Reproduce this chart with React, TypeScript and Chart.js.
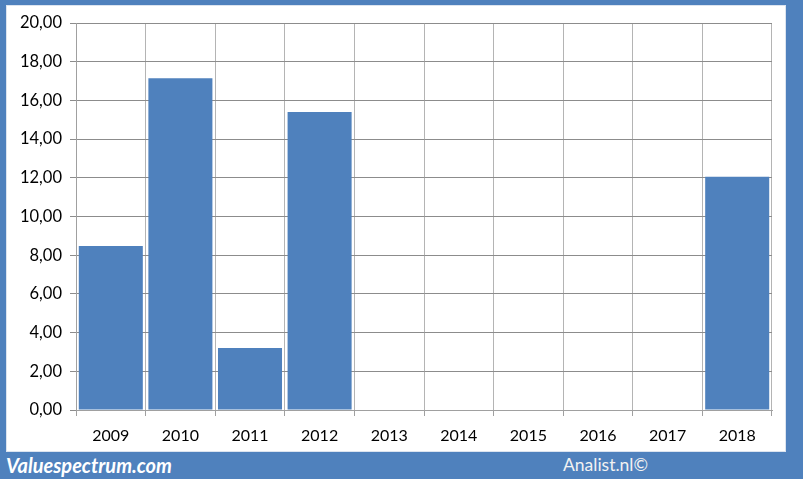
import React, { useEffect, useRef } from "react";
import { Chart, registerables } from "chart.js";

Chart.register(...registerables);

const categories = ["2009", "2010", "2011", "2012", "2013", "2014", "2015", "2016", "2017", "2018"];
const values = [8.48, 17.15, 3.2, 15.4, 0, 0, 0, 0, 0, 12.05];
const yMin = 0;
const yMax = 20;
const yStep = 2;

const BLUE = "#4f81bd";
const FONT = "Lato, 'Open Sans', sans-serif";

export default function App() {
  const ref = useRef<HTMLCanvasElement | null>(null);

  useEffect(() => {
    document.body.style.margin = "0";
    const ctx = ref.current!;
    const chart = new Chart(ctx, {
      type: "bar",
      data: {
        labels: categories,
        datasets: [
          {
            data: values,
            backgroundColor: BLUE,
            borderWidth: 0,
            barPercentage: 0.92,
            categoryPercentage: 1,
          },
        ],
      },
      options: {
        animation: false,
        responsive: false,
        maintainAspectRatio: false,
        events: [],
        layout: { padding: { top: 18, right: 14, left: 0, bottom: 0 } },
        plugins: { legend: { display: false }, tooltip: { enabled: false } },
        scales: {
          x: {
            grid: {
              offset: true,
              color: "#b4b4b4",
              lineWidth: 1,
              drawTicks: true,
              tickLength: 6,
              tickColor: "#a0a0a0",
            },
            border: { color: "#a0a0a0" },
            ticks: {
              color: "#000",
              font: { family: FONT, size: 16 },
              padding: 10,
              maxRotation: 0,
            },
            afterFit: (s: any) => {
              s.height = 42;
            },
          },
          y: {
            min: yMin,
            max: yMax,
            grid: {
              color: "#8c8c8c",
              lineWidth: 1,
              drawTicks: true,
              tickLength: 6,
              tickColor: "#8c8c8c",
            },
            border: { color: "#a0a0a0" },
            ticks: {
              stepSize: yStep,
              color: "#000",
              font: { family: FONT, size: 16.5 },
              padding: 8,
              callback: (v: any) => Number(v).toFixed(2).replace(".", ","),
            },
            afterFit: (s: any) => {
              s.width = 70;
            },
          },
        },
      },
    });
    return () => chart.destroy();
  }, []);

  return (
    <div style={{ position: "relative", width: 803, height: 479, background: BLUE, overflow: "hidden" }}>
      <div style={{ position: "absolute", left: 6, top: 5, width: 780, height: 447, background: "#fff", boxShadow: "inset 0 0 0 1px #dce4ef" }}>
        <canvas ref={ref} width={780} height={447} style={{ display: "block" }} />
      </div>
      <div
        style={{
          position: "absolute",
          left: 6,
          top: 452,
          fontFamily: FONT,
          fontWeight: 700,
          fontStyle: "italic",
          fontSize: 20,
          color: "#fff",
          lineHeight: "26px",
        }}
      >
        Valuespectrum.com
      </div>
      <div
        style={{
          position: "absolute",
          left: 563,
          top: 452,
          fontFamily: FONT,
          fontSize: 17.5,
          color: "#f2f2f2",
          lineHeight: "26px",
        }}
      >
        Analist.nl©
      </div>
    </div>
  );
}
